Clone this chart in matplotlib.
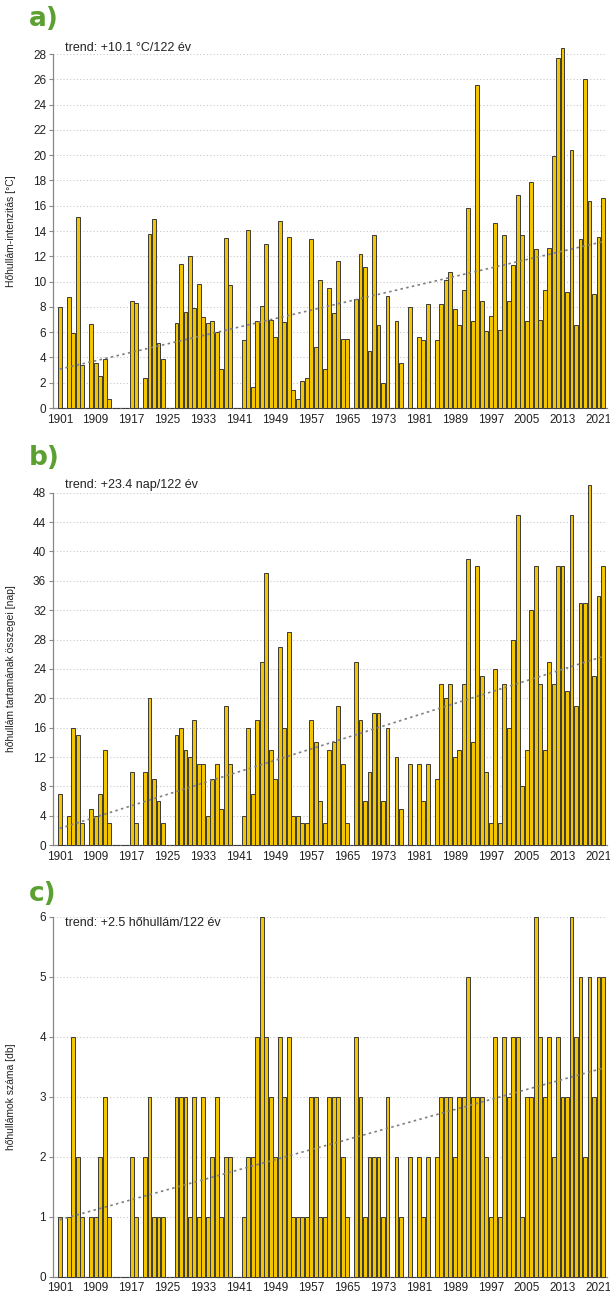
import numpy as np
import matplotlib
matplotlib.use("Agg")
import matplotlib.pyplot as plt

years = list(range(1901, 2023))

intensity = [
    8.0, 0, 8.8, 5.9, 15.15, 3.4, 0, 6.65, 3.6, 2.55,          # 1901-1910
    3.9, 0.7, 0, 0, 0, 0, 8.5, 8.3, 0, 2.4,                    # 1911-1920
    13.8, 14.95, 5.15, 3.9, 0, 0, 6.7, 11.4, 7.6, 12.0,        # 1921-1930
    7.9, 9.85, 7.2, 6.75, 6.9, 6.0, 3.05, 13.45, 9.7, 0,       # 1931-1940
    0, 5.4, 14.05, 1.7, 6.9, 8.05, 12.95, 6.95, 5.65, 14.8,    # 1941-1950
    6.8, 13.55, 1.4, 0.7, 2.1, 2.4, 13.4, 4.85, 10.15, 3.05,   # 1951-1960
    9.5, 7.5, 11.65, 5.45, 5.5, 0, 8.65, 12.15, 11.15, 4.55,   # 1961-1970
    13.65, 6.6, 2.0, 8.9, 0, 6.9, 3.6, 0, 8.0, 0,              # 1971-1980
    5.6, 5.4, 8.2, 0, 5.4, 8.25, 10.15, 10.75, 7.85, 6.55,     # 1981-1990
    9.35, 15.85, 6.85, 25.55, 8.45, 6.1, 7.3, 14.6, 6.15, 13.7,  # 1991-2000
    8.5, 11.35, 16.85, 13.65, 6.85, 17.85, 12.55, 7.0, 9.3, 12.65,  # 2001-2010
    19.9, 27.7, 28.5, 9.15, 20.4, 6.6, 13.35, 26.0, 16.35, 9.05,  # 2011-2020
    13.55, 16.65,                                              # 2021-2022
]

duration = [
    7, 0, 4, 16, 15, 3, 0, 5, 4, 7,
    13, 3, 0, 0, 0, 0, 10, 3, 0, 10,
    20, 9, 6, 3, 0, 0, 15, 16, 13, 12,
    17, 11, 11, 4, 9, 11, 5, 19, 11, 0,
    0, 4, 16, 7, 17, 25, 37, 13, 9, 27,
    16, 29, 4, 4, 3, 3, 17, 14, 6, 3,
    13, 14, 19, 11, 3, 0, 25, 17, 6, 10,
    18, 18, 6, 16, 0, 12, 5, 0, 11, 0,
    11, 6, 11, 0, 9, 22, 20, 22, 12, 13,
    22, 39, 14, 38, 23, 10, 3, 24, 3, 22,
    16, 28, 45, 8, 13, 32, 38, 22, 13, 25,
    22, 38, 38, 21, 45, 19, 33, 33, 49, 23,
    34, 38,
]

count = [
    1, 0, 1, 4, 2, 1, 0, 1, 1, 2,
    3, 1, 0, 0, 0, 0, 2, 1, 0, 2,
    3, 1, 1, 1, 0, 0, 3, 3, 3, 1,
    3, 1, 3, 1, 2, 3, 1, 2, 2, 0,
    0, 1, 2, 2, 4, 6, 4, 3, 2, 4,
    3, 4, 1, 1, 1, 1, 3, 3, 1, 1,
    3, 3, 3, 2, 1, 0, 4, 3, 1, 2,
    2, 2, 1, 3, 0, 2, 1, 0, 2, 0,
    2, 1, 2, 0, 2, 3, 3, 3, 2, 3,
    3, 5, 3, 3, 3, 2, 1, 4, 1, 4,
    3, 4, 4, 1, 3, 3, 6, 4, 3, 4,
    2, 4, 3, 3, 6, 4, 5, 2, 5, 3,
    5, 5,
]

xtick_years = list(range(1901, 2022, 8))

panels = [
    dict(data=intensity, ylabel="Hőhullám-intenzitás [°C]", ymax=28, ystep=2,
         trend="trend: +10.1 °C/122 év", letter="a)",
         rect=[0.0869, 0.6866, 0.9082, 0.2719], trend_y=1.018, letter_y=19),
    dict(data=duration, ylabel="hőhullám tartamának összegei [nap]", ymax=48, ystep=4,
         trend="trend: +23.4 nap/122 év", letter="b)",
         rect=[0.0869, 0.3508, 0.9082, 0.2708], trend_y=1.022, letter_y=458),
    dict(data=count, ylabel="hőhullámok száma [db]", ymax=6, ystep=1,
         trend="trend: +2.5 hőhullám/122 év", letter="c)",
         rect=[0.0869, 0.0194, 0.9082, 0.2765], trend_y=0.982, letter_y=894),
]

W, H = 610, 1302
fig = plt.figure(figsize=(W / 100, H / 100), dpi=100)
plt.rcParams['font.family'] = ['Liberation Sans', 'DejaVu Sans']

bar_color = '#f2c500'
edge_color = '#3a3a3a'
green = '#5ca032'

x = np.array(years)
for p in panels:
    ax = fig.add_axes(p['rect'])
    vals = np.array(p['data'], dtype=float)
    bars = ax.bar(x, vals, width=0.86, color=bar_color, edgecolor=edge_color,
                  linewidth=0.7, zorder=3)
    for b in bars:
        b.set_clip_on(False)
    coef = np.polyfit(x, vals, 1)
    ax.plot(x, np.polyval(coef, x), linestyle=(0, (1.5, 2.0)), color='#7f7f7f',
            linewidth=1.2, zorder=4)
    ax.set_xlim(1899.5, 2022.9)
    ax.set_ylim(0, p['ymax'])
    ax.set_yticks(np.arange(0, p['ymax'] + 0.001, p['ystep']))
    ax.set_xticks(xtick_years)
    ax.set_xticklabels([str(y) for y in xtick_years])
    ax.yaxis.grid(True, linestyle=(0, (1, 2)), color='#c8c8c8', linewidth=0.8, zorder=0)
    ax.set_axisbelow(True)
    for s in ['top', 'right']:
        ax.spines[s].set_visible(False)
    for s in ['left', 'bottom']:
        ax.spines[s].set_color('#888888')
        ax.spines[s].set_linewidth(0.9)
    ax.tick_params(axis='y', length=3, width=0.8, color='#888888', labelsize=8.5,
                   labelcolor='#222222', pad=2)
    ax.tick_params(axis='x', length=0, labelsize=8.5, labelcolor='#222222', pad=4)
    ax.set_ylabel(p['ylabel'], fontsize=7.5, color='#222222')
    ax.yaxis.set_label_coords(-0.067, 0.5)
    ax.text(0.022, p['trend_y'], p['trend'], transform=ax.transAxes, fontsize=9,
            color='#222222', va='center', ha='left')
    fig.text(29 / W, 1 - p['letter_y'] / H, p['letter'], fontsize=19, color=green,
             va='center', ha='left', fontweight='bold',
             family=['DejaVu Sans'])

fig.savefig('out.png', dpi=100)
